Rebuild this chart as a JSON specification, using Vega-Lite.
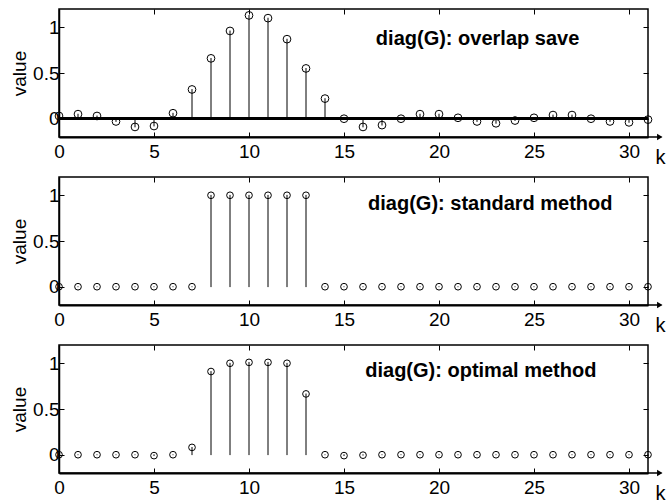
{
  "$schema": "https://vega.github.io/schema/vega-lite/v6.json",
  "autosize": {"type": "pad"},
  "padding": {"left": 9, "top": 7, "right": 0, "bottom": 0},
  "background": "white",
  "config": {
    "view": {"stroke": "black", "strokeWidth": 1.5},
    "axis": {"grid": false, "labelFont": "Liberation Sans", "titleFont": "Liberation Sans", "labelFontSize": 19, "titleFontSize": 19, "labelColor": "black", "titleColor": "black", "tickColor": "black", "domainColor": "black", "titleFontWeight": "normal", "tickWidth": 1}
  },
  "datasets": {
    "os": [
      {"k": 0, "value": 0.03}, {"k": 1, "value": 0.05}, {"k": 2, "value": 0.03}, {"k": 3, "value": -0.03},
      {"k": 4, "value": -0.09}, {"k": 5, "value": -0.08}, {"k": 6, "value": 0.06}, {"k": 7, "value": 0.32},
      {"k": 8, "value": 0.66}, {"k": 9, "value": 0.96}, {"k": 10, "value": 1.13}, {"k": 11, "value": 1.10},
      {"k": 12, "value": 0.87}, {"k": 13, "value": 0.55}, {"k": 14, "value": 0.22}, {"k": 15, "value": 0.0},
      {"k": 16, "value": -0.09}, {"k": 17, "value": -0.07}, {"k": 18, "value": 0.0}, {"k": 19, "value": 0.05},
      {"k": 20, "value": 0.05}, {"k": 21, "value": 0.01}, {"k": 22, "value": -0.03}, {"k": 23, "value": -0.05},
      {"k": 24, "value": -0.02}, {"k": 25, "value": 0.01}, {"k": 26, "value": 0.04}, {"k": 27, "value": 0.04},
      {"k": 28, "value": 0.0}, {"k": 29, "value": -0.03}, {"k": 30, "value": -0.04}, {"k": 31, "value": -0.01}
    ],
    "std": [
      {"k": 0, "value": 0}, {"k": 1, "value": 0}, {"k": 2, "value": 0}, {"k": 3, "value": 0},
      {"k": 4, "value": 0}, {"k": 5, "value": 0}, {"k": 6, "value": 0}, {"k": 7, "value": 0},
      {"k": 8, "value": 1}, {"k": 9, "value": 1}, {"k": 10, "value": 1}, {"k": 11, "value": 1},
      {"k": 12, "value": 1}, {"k": 13, "value": 1}, {"k": 14, "value": 0}, {"k": 15, "value": 0},
      {"k": 16, "value": 0}, {"k": 17, "value": 0}, {"k": 18, "value": 0}, {"k": 19, "value": 0},
      {"k": 20, "value": 0}, {"k": 21, "value": 0}, {"k": 22, "value": 0}, {"k": 23, "value": 0},
      {"k": 24, "value": 0}, {"k": 25, "value": 0}, {"k": 26, "value": 0}, {"k": 27, "value": 0},
      {"k": 28, "value": 0}, {"k": 29, "value": 0}, {"k": 30, "value": 0}, {"k": 31, "value": 0}
    ],
    "opt": [
      {"k": 0, "value": 0}, {"k": 1, "value": 0}, {"k": 2, "value": 0}, {"k": 3, "value": 0},
      {"k": 4, "value": 0}, {"k": 5, "value": -0.01}, {"k": 6, "value": 0}, {"k": 7, "value": 0.08},
      {"k": 8, "value": 0.91}, {"k": 9, "value": 1.0}, {"k": 10, "value": 1.01}, {"k": 11, "value": 1.01},
      {"k": 12, "value": 1.0}, {"k": 13, "value": 0.665}, {"k": 14, "value": 0}, {"k": 15, "value": -0.01},
      {"k": 16, "value": -0.005}, {"k": 17, "value": 0}, {"k": 18, "value": 0}, {"k": 19, "value": 0},
      {"k": 20, "value": 0}, {"k": 21, "value": 0}, {"k": 22, "value": 0}, {"k": 23, "value": 0},
      {"k": 24, "value": 0}, {"k": 25, "value": 0}, {"k": 26, "value": 0}, {"k": 27, "value": 0},
      {"k": 28, "value": 0}, {"k": 29, "value": 0}, {"k": 30, "value": 0}, {"k": 31, "value": 0}
    ],
    "arrow": [{"k": 31, "k2": 31.7, "kh": 31.62, "v": -0.2}],
    "labels": [
      {"panel": "os", "x": 22.03, "y": 0.81, "text": "diag(G): overlap save"},
      {"panel": "std", "x": 22.7, "y": 0.84, "text": "diag(G): standard method"},
      {"panel": "opt", "x": 22.2, "y": 0.85, "text": "diag(G): optimal method"}
    ]
  },
  "spacing": 40,
  "bounds": "flush",
  "vconcat": [
    {
      "width": 589, "height": 128,
      "data": {"name": "os"},
      "resolve": {"axis": {"x": "independent", "y": "independent"}},
      "layer": [
        {
          "mark": {"type": "rule", "color": "black", "strokeWidth": 2},
          "encoding": {"y": {"datum": 0, "type": "quantitative", "scale": {"domain": [-0.2, 1.2], "nice": false, "zero": false}, "axis": null}}
        },
        {
          "mark": {"type": "rule", "color": "black", "strokeWidth": 1, "strokeCap": "round"},
          "encoding": {
            "x": {"field": "k", "type": "quantitative", "scale": {"domain": [0, 31], "nice": false, "zero": false},
                  "axis": {"orient": "bottom", "values": [0, 5, 10, 15, 20, 25, 30], "tickSize": -5, "labelPadding": 10, "labelAngle": 0, "labelFlush": false, "domainWidth": 2, "title": "k", "titleX": 601, "titleY": 26, "titleAlign": "center", "titleBaseline": "alphabetic", "titleFontSize": 20}},
            "y": {"field": "value", "type": "quantitative",
                  "axis": {"orient": "left", "values": [0, 0.5, 1], "format": "~g", "tickSize": -5, "labelPadding": 5, "labelBaseline": "middle", "domainWidth": 1.5, "title": "value", "titleX": -40, "titleY": 64, "titleAngle": 270, "titleAlign": "center", "titleBaseline": "middle"}},
            "y2": {"datum": 0}
          }
        },
        {
          "mark": {"type": "point", "shape": "circle", "filled": false, "stroke": "black", "strokeWidth": 1, "size": 60, "opacity": 1},
          "encoding": {
            "x": {"field": "k", "type": "quantitative", "axis": {"orient": "top", "values": [0, 5, 10, 15, 20, 25, 30], "labels": false, "tickSize": -5, "domain": false, "title": null}},
            "y": {"field": "value", "type": "quantitative", "axis": {"orient": "right", "values": [0, 0.5, 1], "labels": false, "tickSize": -5, "domain": false, "title": null}}
          }
        },
        {
          "data": {"name": "labels"},
          "transform": [{"filter": "datum.panel == 'os'"}],
          "mark": {"type": "text", "font": "Liberation Sans", "fontSize": 20, "fontWeight": "bold", "align": "center", "baseline": "alphabetic", "color": "black"},
          "encoding": {
            "x": {"field": "x", "type": "quantitative", "axis": null},
            "y": {"field": "y", "type": "quantitative", "axis": null},
            "text": {"field": "text"}
          }
        },
        {
          "data": {"name": "arrow"},
          "mark": {"type": "rule", "color": "black", "strokeWidth": 1.5},
          "encoding": {
            "x": {"field": "k", "type": "quantitative", "axis": null},
            "x2": {"field": "k2"},
            "y": {"field": "v", "type": "quantitative", "axis": null}
          }
        },
        {
          "data": {"name": "arrow"},
          "mark": {"type": "point", "shape": "triangle-right", "filled": true, "color": "black", "size": 40, "opacity": 1},
          "encoding": {
            "x": {"field": "kh", "type": "quantitative", "axis": null},
            "y": {"field": "v", "type": "quantitative", "axis": null}
          }
        }
      ]
    },
    {
      "width": 589, "height": 128,
      "data": {"name": "std"},
      "resolve": {"axis": {"x": "independent", "y": "independent"}},
      "layer": [
        {
          "mark": {"type": "rule", "color": "black", "strokeWidth": 1, "strokeCap": "round"},
          "encoding": {
            "x": {"field": "k", "type": "quantitative", "scale": {"domain": [0, 31], "nice": false, "zero": false},
                  "axis": {"orient": "bottom", "values": [0, 5, 10, 15, 20, 25, 30], "tickSize": -5, "labelPadding": 10, "labelAngle": 0, "labelFlush": false, "domainWidth": 2, "title": "k", "titleX": 601, "titleY": 26, "titleAlign": "center", "titleBaseline": "alphabetic", "titleFontSize": 20}},
            "y": {"field": "value", "type": "quantitative", "scale": {"domain": [-0.2, 1.2], "nice": false, "zero": false},
                  "axis": {"orient": "left", "values": [0, 0.5, 1], "format": "~g", "tickSize": -5, "labelPadding": 5, "labelBaseline": "middle", "domainWidth": 1.5, "title": "value", "titleX": -40, "titleY": 64, "titleAngle": 270, "titleAlign": "center", "titleBaseline": "middle"}},
            "y2": {"datum": 0}
          }
        },
        {
          "mark": {"type": "point", "shape": "circle", "filled": false, "stroke": "black", "strokeWidth": 1, "size": 45, "opacity": 1},
          "encoding": {
            "x": {"field": "k", "type": "quantitative", "axis": {"orient": "top", "values": [0, 5, 10, 15, 20, 25, 30], "labels": false, "tickSize": -5, "domain": false, "title": null}},
            "y": {"field": "value", "type": "quantitative", "axis": {"orient": "right", "values": [0, 0.5, 1], "labels": false, "tickSize": -5, "domain": false, "title": null}}
          }
        },
        {
          "data": {"name": "labels"},
          "transform": [{"filter": "datum.panel == 'std'"}],
          "mark": {"type": "text", "font": "Liberation Sans", "fontSize": 20, "fontWeight": "bold", "align": "center", "baseline": "alphabetic", "color": "black"},
          "encoding": {
            "x": {"field": "x", "type": "quantitative", "axis": null},
            "y": {"field": "y", "type": "quantitative", "axis": null},
            "text": {"field": "text"}
          }
        },
        {
          "data": {"name": "arrow"},
          "mark": {"type": "rule", "color": "black", "strokeWidth": 1.5},
          "encoding": {
            "x": {"field": "k", "type": "quantitative", "axis": null},
            "x2": {"field": "k2"},
            "y": {"field": "v", "type": "quantitative", "axis": null}
          }
        },
        {
          "data": {"name": "arrow"},
          "mark": {"type": "point", "shape": "triangle-right", "filled": true, "color": "black", "size": 40, "opacity": 1},
          "encoding": {
            "x": {"field": "kh", "type": "quantitative", "axis": null},
            "y": {"field": "v", "type": "quantitative", "axis": null}
          }
        }
      ]
    },
    {
      "width": 589, "height": 128,
      "data": {"name": "opt"},
      "resolve": {"axis": {"x": "independent", "y": "independent"}},
      "layer": [
        {
          "mark": {"type": "rule", "color": "black", "strokeWidth": 1, "strokeCap": "round"},
          "encoding": {
            "x": {"field": "k", "type": "quantitative", "scale": {"domain": [0, 31], "nice": false, "zero": false},
                  "axis": {"orient": "bottom", "values": [0, 5, 10, 15, 20, 25, 30], "tickSize": -5, "labelPadding": 10, "labelAngle": 0, "labelFlush": false, "domainWidth": 2, "title": "k", "titleX": 601, "titleY": 26, "titleAlign": "center", "titleBaseline": "alphabetic", "titleFontSize": 20}},
            "y": {"field": "value", "type": "quantitative", "scale": {"domain": [-0.2, 1.2], "nice": false, "zero": false},
                  "axis": {"orient": "left", "values": [0, 0.5, 1], "format": "~g", "tickSize": -5, "labelPadding": 5, "labelBaseline": "middle", "domainWidth": 1.5, "title": "value", "titleX": -40, "titleY": 64, "titleAngle": 270, "titleAlign": "center", "titleBaseline": "middle"}},
            "y2": {"datum": 0}
          }
        },
        {
          "mark": {"type": "point", "shape": "circle", "filled": false, "stroke": "black", "strokeWidth": 1, "size": 45, "opacity": 1},
          "encoding": {
            "x": {"field": "k", "type": "quantitative", "axis": {"orient": "top", "values": [0, 5, 10, 15, 20, 25, 30], "labels": false, "tickSize": -5, "domain": false, "title": null}},
            "y": {"field": "value", "type": "quantitative", "axis": {"orient": "right", "values": [0, 0.5, 1], "labels": false, "tickSize": -5, "domain": false, "title": null}}
          }
        },
        {
          "data": {"name": "labels"},
          "transform": [{"filter": "datum.panel == 'opt'"}],
          "mark": {"type": "text", "font": "Liberation Sans", "fontSize": 20, "fontWeight": "bold", "align": "center", "baseline": "alphabetic", "color": "black"},
          "encoding": {
            "x": {"field": "x", "type": "quantitative", "axis": null},
            "y": {"field": "y", "type": "quantitative", "axis": null},
            "text": {"field": "text"}
          }
        },
        {
          "data": {"name": "arrow"},
          "mark": {"type": "rule", "color": "black", "strokeWidth": 1.5},
          "encoding": {
            "x": {"field": "k", "type": "quantitative", "axis": null},
            "x2": {"field": "k2"},
            "y": {"field": "v", "type": "quantitative", "axis": null}
          }
        },
        {
          "data": {"name": "arrow"},
          "mark": {"type": "point", "shape": "triangle-right", "filled": true, "color": "black", "size": 40, "opacity": 1},
          "encoding": {
            "x": {"field": "kh", "type": "quantitative", "axis": null},
            "y": {"field": "v", "type": "quantitative", "axis": null}
          }
        }
      ]
    }
  ]
}
